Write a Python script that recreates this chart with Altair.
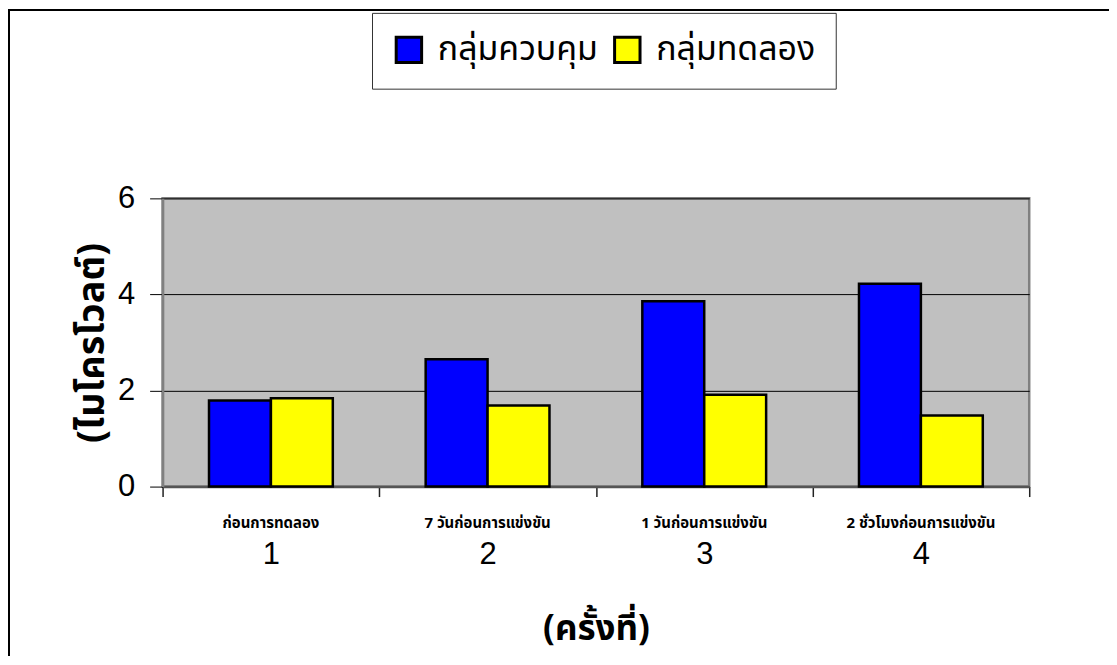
import altair as alt
import pandas as pd

sessions = ["1", "2", "3", "4"]
descriptions = ["ก่อนการทดลอง", "7 วันก่อนการแข่งขัน", "1 วันก่อนการแข่งขัน", "2 ชั่วโมงก่อนการแข่งขัน"]
groups = ["กลุ่มควบคุม", "กลุ่มทดลอง"]
control = [1.79, 2.65, 3.86, 4.22]
experiment = [1.84, 1.69, 1.91, 1.48]
colors = ["#0000FF", "#FFFF00"]

rows = []
for s, c, e in zip(sessions, control, experiment):
    rows.append({"session": s, "group": groups[0], "value": c})
    rows.append({"session": s, "group": groups[1], "value": e})
bars_df = pd.DataFrame(rows)
desc_df = pd.DataFrame({"session": sessions, "desc": descriptions})

W, H = 869, 289
THAI = "Noto Sans Thai, Noto Sans Thai UI, Noto Sans, DejaVu Sans, sans-serif"
NUM = "Liberation Sans, Arial, sans-serif"

x_scale = alt.Scale(domain=sessions, paddingInner=0, paddingOuter=0)

bars = alt.Chart(bars_df).mark_bar(stroke="black", strokeWidth=2.5).encode(
    x=alt.X("session:N", scale=x_scale, title="(ครั้งที่)",
            axis=alt.Axis(labelAngle=0, tickBand="extent", labelFontSize=31, labelFont=NUM,
                          labelPadding=43, labelColor="black", tickColor="#222222",
                          tickSize=10, tickWidth=1.5, domainColor="#555555", domainWidth=2.5,
                          titleFont=THAI, titleFontSize=35, titleFontWeight="bold",
                          titlePadding=42, titleColor="black", grid=False)),
    xOffset=alt.XOffset("group:N", sort=groups,
                        scale=alt.Scale(domain=groups, paddingInner=0, paddingOuter=0.75)),
    y=alt.Y("value:Q", scale=alt.Scale(domain=[0, 6]), title="(ไมโครโวลต์)",
            axis=alt.Axis(values=[0, 2, 4, 6], labelFontSize=31, labelFont=NUM, labelColor="black",
                          labelPadding=15, tickColor="black", tickSize=13, tickWidth=1,
                          domainColor="#808080", domainWidth=2.5,
                          grid=True, gridColor="black", gridWidth=1,
                          titleFont=THAI, titleFontSize=38, titleFontWeight="bold",
                          titlePadding=6, titleColor="black")),
    color=alt.Color("group:N", sort=groups, scale=alt.Scale(domain=groups, range=colors),
                    legend=alt.Legend(title=None, orient="none", legendX=210, legendY=-186,
                                      direction="horizontal", symbolType="square",
                                      symbolSize=650, symbolStrokeColor="black",
                                      symbolStrokeWidth=3, symbolOpacity=1,
                                      labelFont=THAI, labelFontSize=34, labelColor="black",
                                      labelOffset=12, labelLimit=300, columnPadding=10,
                                      strokeColor="#333333", fillColor="white",
                                      padding=20, cornerRadius=0)),
)

desc_text = alt.Chart(desc_df).mark_text(font=THAI, fontSize=15, fontWeight="bold",
                                         color="black", baseline="middle").encode(
    x=alt.X("session:N", scale=x_scale),
    y=alt.value(H + 37),
    text="desc:N",
)

frame_top = alt.Chart(desc_df).mark_rule(color="black", strokeWidth=2).encode(
    x=alt.value(-155), x2=alt.value(W + 80), y=alt.value(-189)
)
frame_left = alt.Chart(desc_df).mark_rule(color="black", strokeWidth=2).encode(
    x=alt.value(-154), y=alt.value(-190), y2=alt.value(H + 170)
)

chart = alt.layer(frame_top, frame_left, bars, desc_text).properties(
    width=W, height=H,
    autosize=alt.AutoSizeParams(type="none"),
    padding={"left": 155, "top": 190, "right": 80, "bottom": 170},
).configure(
    background="white"
).configure_view(
    fill="#C0C0C0", stroke="#808080", strokeWidth=2.5
)

chart.save("out.html", embed_options={"renderer": "svg", "actions": False})
